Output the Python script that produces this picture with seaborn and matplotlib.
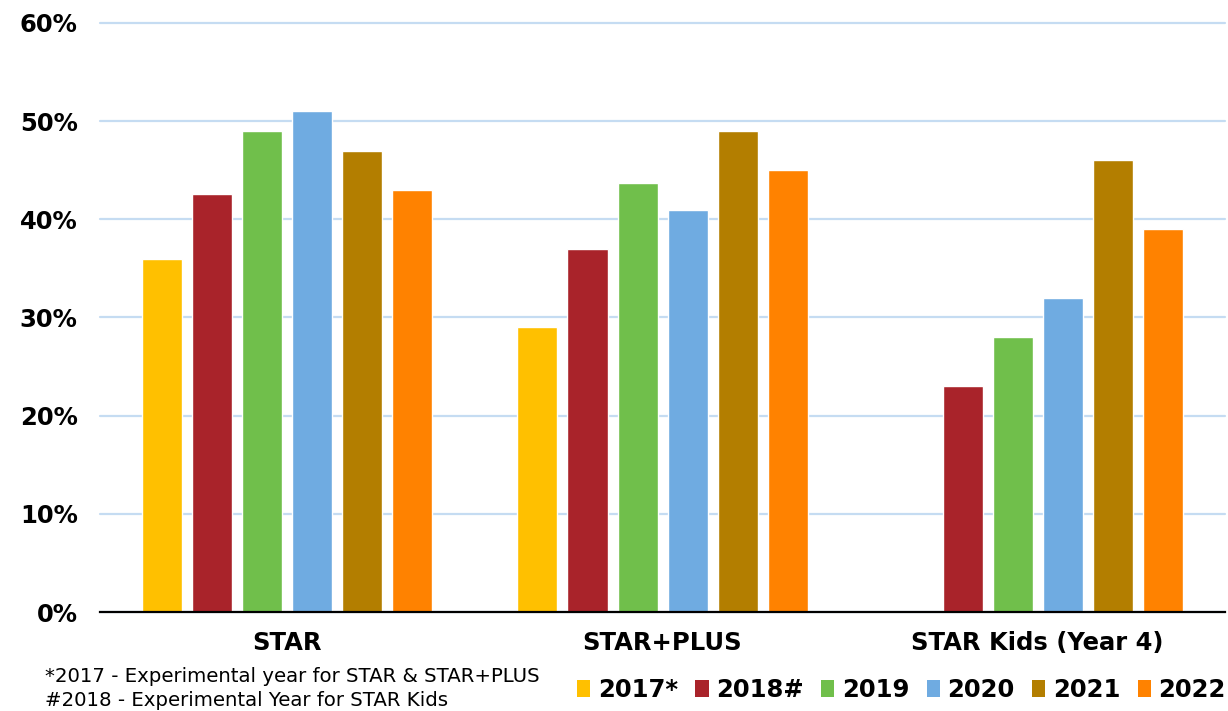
import numpy as np
import pandas as pd
import matplotlib
matplotlib.use("Agg")
import matplotlib.pyplot as plt
import seaborn as sns
from matplotlib.patches import Patch
from matplotlib.ticker import PercentFormatter

programs = ["STAR", "STAR+PLUS", "STAR Kids (Year 4)"]
years = ["2017*", "2018#", "2019", "2020", "2021", "2022"]
v2017 = [36, 29, np.nan]
v2018 = [42.6, 37, 23]
v2019 = [49, 43.7, 28]
v2020 = [51, 41, 32]
v2021 = [47, 49, 46]
v2022 = [43, 45, 39]
colors = ["#FFC000", "#A9232A", "#70BF4B", "#6FABE1", "#B37E00", "#FF8200"]
footnotes = ["*2017 - Experimental year for STAR & STAR+PLUS",
             "#2018 - Experimental Year for STAR Kids"]

series = [v2017, v2018, v2019, v2020, v2021, v2022]
rows = []
for y, vals in zip(years, series):
    for p, v in zip(programs, vals):
        rows.append({"program": p, "year": y, "value": v / 100.0})
df = pd.DataFrame(rows)

sns.set_theme(style="white")
plt.rcParams["font.family"] = ["DejaVu Sans"]
plt.rcParams["text.color"] = "black"

fig = plt.figure(figsize=(12.28, 7.11), dpi=100)
ax = fig.add_axes([0.0814, 0.1392, 0.9162, 0.8285])

sns.barplot(data=df, x="program", y="value", hue="year", hue_order=years,
            order=programs, palette=colors, gap=0.2, edgecolor="white",
            linewidth=1, saturation=1, ax=ax, legend=False, errorbar=None)

ax.set_ylim(0, 0.6)
ax.set_xlim(-0.5, 2.5)
ax.set_yticks(np.arange(0, 0.61, 0.1))
ax.yaxis.set_major_formatter(PercentFormatter(1.0, decimals=0))
ax.grid(axis="y", color="#C5DCF2", linewidth=1.6)
for gl in ax.get_ygridlines():
    gl.set_clip_on(False)
ax.set_axisbelow(True)
for s in ["left", "right", "top"]:
    ax.spines[s].set_visible(False)
ax.spines["bottom"].set_color("black")
ax.spines["bottom"].set_linewidth(1.6)
ax.set_xlabel("")
ax.set_ylabel("")
ax.tick_params(axis="y", length=0, pad=16, labelsize=17.5)
ax.tick_params(axis="x", length=0, pad=14, labelsize=17.5)
for lab in ax.get_yticklabels() + ax.get_xticklabels():
    lab.set_fontweight("bold")
    lab.set_color("black")

fig.text(45 / 1228, 1 - 677 / 711, footnotes[0], fontsize=14.2, va="center", ha="left", color="black")
fig.text(45 / 1228, 1 - 701 / 711, footnotes[1], fontsize=14.2, va="center", ha="left", color="black")

handles = [Patch(facecolor=c, edgecolor="none") for c in colors]
leg = fig.legend(handles, years, loc="center right", bbox_to_anchor=(1.0, 1 - 690 / 711),
                 ncol=6, frameon=False, handlelength=0.55, handleheight=0.75,
                 handletextpad=0.3, columnspacing=0.72, borderaxespad=0.0,
                 borderpad=0.1, prop={"weight": "bold", "size": 17.5})
for t in leg.get_texts():
    t.set_color("black")

fig.savefig("out.png", dpi=100)
